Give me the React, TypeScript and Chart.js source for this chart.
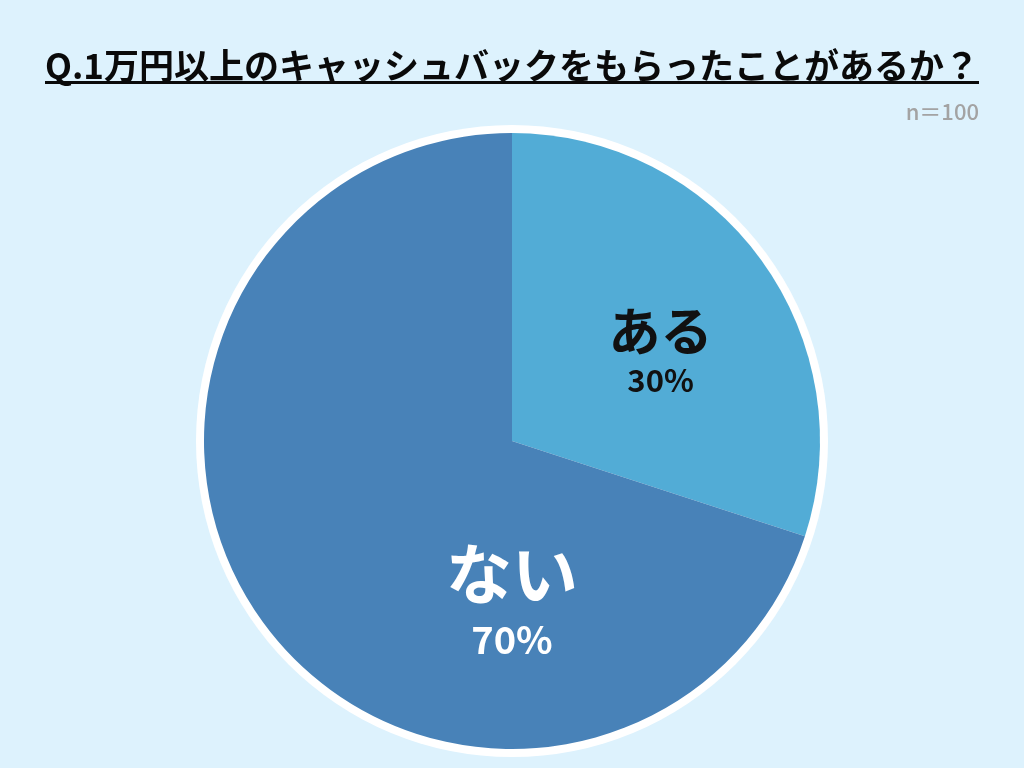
import React, { useEffect, useRef } from "react";
import { Chart, registerables } from "chart.js";

Chart.register(...registerables);

const categories = ["ある", "ない"];
const values = [30, 70];
const sliceColors = ["#52acd6", "#4882b8"];
const labelColors = ["#111111", "#ffffff"];
const nameFontSizes = [52, 66];
const pctFontSizes = [31, 38];
// label anchor: [angle in degrees (canvas), fraction of radius]
const labelAnchors: [number, number][] = [[-36.5, 0.6], [90, 0.43]];
const titleText = "Q.1万円以上のキャッシュバックをもらったことがあるか？";
const sampleText = "n＝100";

const FONT = "'Noto Sans CJK JP', 'Noto Sans', sans-serif";
const BG = "#ddf2fd";

const decorPlugin = {
  id: "decor",
  beforeDraw(chart: any) {
    const ctx = chart.ctx;
    ctx.save();
    ctx.fillStyle = BG;
    ctx.fillRect(0, 0, chart.width, chart.height);
    // title
    ctx.font = `bold 35px ${FONT}`;
    ctx.fillStyle = "#0a0a0a";
    ctx.textAlign = "center";
    ctx.textBaseline = "middle";
    const cx = chart.width / 2;
    ctx.fillText(titleText, cx, 66);
    const w = ctx.measureText(titleText).width;
    ctx.fillRect(cx - w / 2, 81, w, 3);
    // sample size
    ctx.font = `500 22px ${FONT}`;
    ctx.fillStyle = "#a3a3a3";
    ctx.textAlign = "right";
    ctx.fillText(sampleText, cx + w / 2, 112);
    ctx.restore();
  },
  beforeDatasetsDraw(chart: any) {
    const meta = chart.getDatasetMeta(0);
    const arc = meta.data[0];
    if (!arc) return;
    const ctx = chart.ctx;
    ctx.save();
    ctx.beginPath();
    ctx.arc(arc.x, arc.y, arc.outerRadius + 8, 0, Math.PI * 2);
    ctx.fillStyle = "#ffffff";
    ctx.fill();
    ctx.restore();
  },
  afterDatasetsDraw(chart: any) {
    const meta = chart.getDatasetMeta(0);
    const ctx = chart.ctx;
    ctx.save();
    ctx.textAlign = "center";
    ctx.textBaseline = "middle";
    const total = values.reduce((s, v) => s + v, 0);
    meta.data.forEach((a: any, i: number) => {
      const [deg, frac] = labelAnchors[i];
      const ang = (deg * Math.PI) / 180;
      const x = a.x + Math.cos(ang) * a.outerRadius * frac;
      const y = a.y + Math.sin(ang) * a.outerRadius * frac;
      ctx.fillStyle = labelColors[i];
      ctx.font = `bold ${nameFontSizes[i]}px ${FONT}`;
      ctx.fillText(categories[i], x, y);
      ctx.font = `bold ${pctFontSizes[i]}px ${FONT}`;
      const pct = Math.round((values[i] / total) * 100) + "%";
      ctx.fillText(pct, x, y + (i === 1 ? 66 : 49));
    });
    ctx.restore();
  },
};

export default function App() {
  const ref = useRef<HTMLCanvasElement | null>(null);
  useEffect(() => {
    document.body.style.margin = "0";
    document.body.style.background = BG;
    if (!ref.current) return;
    const chart = new Chart(ref.current, {
      type: "pie",
      data: {
        labels: categories,
        datasets: [
          {
            data: values,
            backgroundColor: sliceColors,
            borderWidth: 0,
          },
        ],
      },
      options: {
        responsive: false,
        animation: false,
        events: [],
        layout: { padding: { top: 133, bottom: 19, left: 0, right: 0 } },
        plugins: {
          legend: { display: false },
          title: { display: false },
          tooltip: { enabled: false },
        },
      },
      plugins: [decorPlugin],
    });
    return () => chart.destroy();
  }, []);
  return (
    <div style={{ width: 1024, height: 768 }}>
      <canvas ref={ref} width={1024} height={768} style={{ display: "block" }} />
    </div>
  );
}
